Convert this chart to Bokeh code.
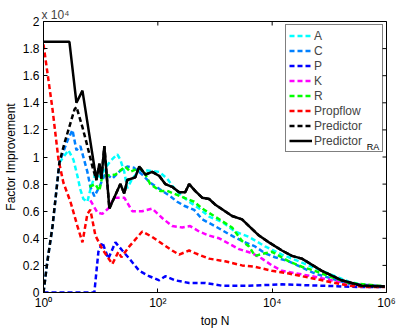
import math
from bokeh.plotting import figure
from bokeh.models import (Range1d, FixedTicker, Legend, LegendItem, Label)
from bokeh.embed import file_html
from bokeh.resources import INLINE

# values in units of 10^4
pra_n = [1, 2.84, 3.77, 4.80, 8.41, 9.49, 10.3, 11.6, 14.2, 18.1, 22.1, 25.9, 29.2, 40.3, 47.3, 60.3,
         79.8, 106, 135, 178, 236, 301, 353, 449, 596, 789, 1000, 1330, 1990, 2970, 3940, 5890,
         8790, 14800, 22200, 33100, 74000, 165000, 369000, 930000]
pra_v = [1.85, 1.85, 1.40, 1.49, 0.83, 0.95, 0.84, 1.08, 0.62, 0.72, 0.80, 0.73, 0.83, 0.85, 0.93, 0.87,
         0.89, 0.86, 0.80, 0.78, 0.74, 0.74, 0.80, 0.75, 0.70, 0.69, 0.65, 0.615, 0.565, 0.54, 0.49, 0.42,
         0.37, 0.31, 0.27, 0.25, 0.16, 0.09, 0.05, 0.045]

pred_n = [1, 1.17, 1.44, 1.90, 2.32, 3.48, 3.77, 4.80, 5.86, 7.16, 8.41] + pra_n[5:]
pred_v = [0.0, 0.23, 0.49, 0.96, 1.10, 1.35, 1.37, 1.22, 1.08, 0.93, 0.83] + pra_v[5:]

prop_n = [1, 1.44, 1.83, 2.23, 2.96, 3.92, 4.80, 5.86, 6.61, 8.09, 10.7, 16.0, 20.4, 23.0, 31.7, 53.4,
          79.8, 119, 178, 236, 353, 449, 789, 1500, 2970, 5010, 9930, 19600, 43900, 98000, 219000,
          489000, 930000]
prop_v = [1.83, 1.35, 0.98, 0.81, 0.67, 0.49, 0.37, 0.58, 0.61, 0.42, 0.32, 0.21, 0.30, 0.26, 0.34, 0.45,
          0.41, 0.36, 0.31, 0.28, 0.31, 0.29, 0.25, 0.23, 0.20, 0.19, 0.16, 0.14, 0.11, 0.08, 0.05,
          0.04, 0.04]

a_n = [1.90, 2.73, 3.34, 3.92, 4.42, 4.99, 5.86, 6.61, 8.09, 9.88, 12.1, 14.8, 19.6, 22.1, 25.9, 29.2,
       35.7, 47.3, 65.3, 106, 146, 201, 267, 353, 528, 789, 1330, 2240, 3940, 7490, 14800, 29400,
       55800, 111000, 219000, 417000, 930000]
a_v = [0.96, 1.05, 0.98, 0.86, 0.76, 0.69, 0.67, 0.76, 0.88, 0.85, 0.92, 0.97, 1.02, 0.98, 0.89, 0.77,
       0.84, 0.90, 0.90, 0.89, 0.84, 0.76, 0.71, 0.67, 0.62, 0.56, 0.52, 0.45, 0.41, 0.34, 0.28, 0.23,
       0.18, 0.13, 0.08, 0.05, 0.045]

c_n = [1, 1.17, 1.44, 1.90, 2.62, 3.21, 3.77, 4.42, 5.86, 6.61, 7.76, 9.49, 12.1, 16.0, 22.1, 29.2,
       38.5, 53.4, 73.6, 110, 165, 218, 289, 432, 596, 1000, 1760, 2970, 5010, 7490, 11200, 19600,
       55800, 219000, 930000]
c_v = [0.0, 0.23, 0.49, 0.96, 1.12, 1.20, 1.05, 1.08, 0.89, 0.78, 0.71, 0.78, 0.88, 0.84, 0.90, 0.93,
       0.92, 0.87, 0.81, 0.76, 0.71, 0.67, 0.64, 0.61, 0.54, 0.49, 0.43, 0.38, 0.34, 0.29, 0.26, 0.23,
       0.14, 0.065, 0.045]

p_n = [1, 7.76, 9.12, 10.7, 13.6, 18.1, 23.9, 31.7, 47.3, 70.8, 106, 135, 201, 353, 672, 1330,
       3940, 14800, 74000, 369000, 930000]
p_v = [0, 0, 0.30, 0.37, 0.25, 0.37, 0.31, 0.25, 0.16, 0.12, 0.09, 0.12, 0.09, 0.07, 0.07, 0.05,
       0.05, 0.06, 0.05, 0.04, 0.04]

k_n = [6.61, 8.76, 10.7, 13.6, 17.3, 25.9, 35.7, 53.4, 79.8, 119, 178, 267, 368, 528, 789, 1180,
       1760, 2630, 4440, 6640, 9930, 14800, 49500, 111000, 219000, 930000]
k_v = [0.68, 0.59, 0.58, 0.62, 0.70, 0.70, 0.60, 0.60, 0.62, 0.55, 0.49, 0.48, 0.49, 0.45, 0.42, 0.40,
       0.36, 0.32, 0.29, 0.25, 0.20, 0.16, 0.12, 0.09, 0.065, 0.045]

r_n = [6.35, 8.09, 9.49, 10.7, 18.1, 27.0, 33.0, 47.3, 57.9, 73.6, 110, 146, 326, 432, 596, 1000,
       1990, 2970, 3940, 5010, 7490, 9930, 19600, 33100, 55800, 98000, 219000, 930000]
r_v = [0.78, 0.80, 0.75, 0.86, 0.87, 0.93, 0.89, 0.92, 0.89, 0.80, 0.75, 0.75, 0.69, 0.67, 0.62, 0.56,
       0.48, 0.38, 0.34, 0.27, 0.29, 0.30, 0.23, 0.19, 0.16, 0.12, 0.07, 0.045]

x_ticks = [1, 100, 10000, 1000000]
x_tick_labels = ["10\u2070", "10\u00b2", "10\u2074", "10\u2076"]
y_ticks = [0, 0.2, 0.4, 0.6, 0.8, 1, 1.2, 1.4, 1.6, 1.8, 2]
y_tick_labels = ["0", "0.2", "0.4", "0.6", "0.8", "1", "1.2", "1.4", "1.6", "1.8", "2"]
X_MIN, X_MAX, Y_MIN, Y_MAX = 1, 1e6, 0, 2

FONT = "Liberation Sans"

p = figure(width=399, height=330, x_axis_type="log", x_range=Range1d(X_MIN, X_MAX),
           y_range=Range1d(Y_MIN, Y_MAX),
           output_backend="svg", toolbar_location=None,
           min_border_left=40, min_border_right=13, min_border_top=21, min_border_bottom=36,
           x_axis_label="top N", y_axis_label="Factor Improvement")
p.xgrid.visible = False
p.ygrid.visible = False
p.outline_line_color = "black"
p.outline_line_width = 1
p.background_fill_color = "white"

p.title.text = "x 10\u2074"
p.title.align = "left"
p.title.text_font = FONT
p.title.text_font_size = "12px"
p.title.text_font_style = "normal"
p.title.offset = -2
p.title.standoff = 0

p.xaxis.ticker = FixedTicker(ticks=x_ticks, minor_ticks=[])
p.yaxis.ticker = FixedTicker(ticks=y_ticks, minor_ticks=[])
p.xaxis.major_label_overrides = {t: l for t, l in zip(x_ticks, x_tick_labels)}
p.yaxis.major_label_overrides = {t: l for t, l in zip(y_ticks, y_tick_labels)}

for ax in [p.xaxis[0], p.yaxis[0]]:
    ax.axis_line_color = "black"
    ax.axis_line_width = 1
    ax.major_tick_in = 4
    ax.major_tick_out = 0
    ax.minor_tick_line_color = None
    ax.major_tick_line_color = "black"
    ax.major_label_text_font = FONT
    ax.major_label_text_font_size = "12px"
    ax.major_label_text_color = "black"
    ax.axis_label_text_font = FONT
    ax.axis_label_text_font_size = "12px"
    ax.axis_label_text_font_style = "normal"
    ax.axis_label_text_color = "black"
p.xaxis.major_label_standoff = 3
p.yaxis.major_label_standoff = 4
p.xaxis.axis_label_standoff = 1
p.yaxis.axis_label_standoff = 2

# tick marks on the top and right edges of the box
p.scatter(x_ticks, [Y_MAX] * len(x_ticks), marker="dash", size=8, angle=math.pi / 2,
          line_color="black", line_width=1)
p.scatter([X_MAX] * len(y_ticks), y_ticks, marker="dash", size=8,
          line_color="black", line_width=1)

W = 2.5
DASH = "5 3"
series = [
    ("A", a_n, a_v, "#00FFFF", DASH),
    ("C", c_n, c_v, "#0080FF", DASH),
    ("P", p_n, p_v, "#0000FF", DASH),
    ("K", k_n, k_v, "#FF00FF", DASH),
    ("R", r_n, r_v, "#00FF00", DASH),
    ("Propflow", prop_n, prop_v, "#FF0000", DASH),
    ("Predictor", pred_n, pred_v, "#000000", DASH),
    ("Predictor", pra_n, pra_v, "#000000", "solid"),
]
items = []
for name, xs, ys, col, dash in series:
    r = p.line(xs, ys, line_color=col, line_width=W, line_dash=dash)
    items.append(LegendItem(label=name, renderers=[r]))

legend = Legend(items=items, location="top_right")
legend.border_line_color = "black"
legend.border_line_width = 1
legend.background_fill_alpha = 0
legend.label_text_font = FONT
legend.label_text_font_size = "12px"
legend.glyph_width = 23
legend.glyph_height = 15
legend.label_height = 15
legend.label_width = 65
legend.spacing = 0
legend.padding = 3
legend.margin = 3
legend.label_standoff = 2
p.add_layout(legend)

p.add_layout(Label(x=451000, y=1.073, text="RA", text_font=FONT, text_font_size="9px",
                   text_color="black", text_baseline="middle", text_align="left"))

open("out.html", "w").write(file_html(p, INLINE))
